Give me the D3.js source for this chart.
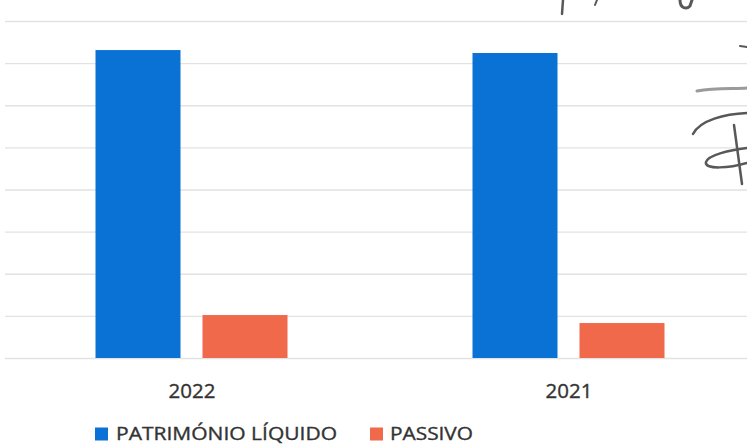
<!DOCTYPE html>
<html>
<head>
<meta charset="utf-8">
<script src="https://cdn.jsdelivr.net/npm/d3@7"></script>
<style>
  html, body { margin: 0; padding: 0; background: #ffffff; }
  svg { display: block; }
</style>
</head>
<body>
<svg id="chart" width="747" height="445"></svg>
<script>
// ---- data (in gridline units) ----
const categories = ["2022", "2021"];
const seriesNames = ["PATRIMÓNIO LÍQUIDO", "PASSIVO"];
const patrimonioLiquido = [7.31, 7.24];
const passivo = [1.02, 0.83];
const gridTicks = [0, 1, 2, 3, 4, 5, 6, 7, 8];

const seriesValues = [patrimonioLiquido, passivo];
const colors = ["#0a72d4", "#f0694a"];

const svg = d3.select("#chart");
const W = 747, H = 445;

// scales
const x0 = d3.scaleBand().domain(categories).range([3.5, 757.5]).padding(0);
const x1 = d3.scaleBand().domain(seriesNames).range([92, 284]).paddingInner(22 / 107).paddingOuter(0);
const y = d3.scaleLinear().domain([0, 8]).range([358, 21]);

// gridlines via axis
const gridAxis = d3.axisLeft(y).tickValues(gridTicks).tickSize(-(W - 5)).tickFormat("");
const g = svg.append("g").attr("transform", "translate(5,0)").call(gridAxis);
g.select(".domain").remove();
g.selectAll(".tick line").attr("stroke", "#e2e2e2").attr("stroke-width", 1.3);

// bars
const groups = svg.append("g").selectAll("g")
  .data(categories)
  .join("g")
  .attr("transform", d => `translate(${x0(d)},0)`);

groups.selectAll("rect")
  .data((c, ci) => seriesNames.map((s, si) => ({ s, si, v: seriesValues[si][ci] })))
  .join("rect")
  .attr("x", d => x1(d.s))
  .attr("width", x1.bandwidth())
  .attr("y", d => y(d.v))
  .attr("height", d => y(0) - y(d.v))
  .attr("fill", d => colors[d.si]);

// category axis labels
const xAxis = d3.axisBottom(x0).tickSize(0).tickPadding(0);
const xa = svg.append("g").attr("transform", "translate(0,383)").call(xAxis);
xa.select(".domain").remove();
xa.selectAll("text")
  .attr("font-family", "'Open Sans', sans-serif")
  .attr("font-size", 20.5)
  .attr("fill", "#333333")
  .attr("stroke", "#333333")
  .attr("stroke-width", 0.35)
  .attr("dy", "0.71em")
  .attr("y", 0);

// legend
const legendItems = [
  { name: seriesNames[0], color: colors[0], sx: 95, tx: 116, tw: 221 },
  { name: seriesNames[1], color: colors[1], sx: 370, tx: 390, tw: 83 }
];
const lg = svg.append("g");
legendItems.forEach(it => {
  lg.append("rect").attr("x", it.sx).attr("y", 427.5).attr("width", 13).attr("height", 13).attr("fill", it.color);
  lg.append("text")
    .attr("x", it.tx).attr("y", 439.5)
    .attr("font-family", "'Open Sans', sans-serif")
    .attr("font-size", 18.5)
    .attr("fill", "#333333")
    .attr("stroke", "#333333")
    .attr("stroke-width", 0.35)
    .attr("textLength", it.tw)
    .attr("lengthAdjust", "spacingAndGlyphs")
    .text(it.name);
});

// handwritten annotations from the scanned page (decoration)
const hw = svg.append("g").attr("fill", "none").attr("stroke", "#585858").attr("stroke-linecap", "round");
hw.append("path").attr("d", "M563,0 L562,14").attr("stroke-width", 2.5);
hw.append("path").attr("d", "M597,0 L595,5").attr("stroke-width", 2);
hw.append("path").attr("d", "M680,0 C680,8 686,10 690,6 L692,0").attr("stroke-width", 3);
hw.append("path").attr("d", "M740,46 L747,47").attr("stroke-width", 2);
hw.append("path").attr("d", "M697,91 C715,88 735,89 747,88").attr("stroke", "#9a9a9a").attr("stroke-width", 3);
hw.append("path").attr("d", "M693,134 C700,120 725,114 747,113").attr("stroke-width", 2.5);
hw.append("path").attr("d", "M734,125 L742,184").attr("stroke-width", 2.5);
hw.append("path").attr("d", "M747,148 C730,150 708,155 706,162 C704,170 730,168 747,163").attr("stroke-width", 2.5);
</script>
</body>
</html>
